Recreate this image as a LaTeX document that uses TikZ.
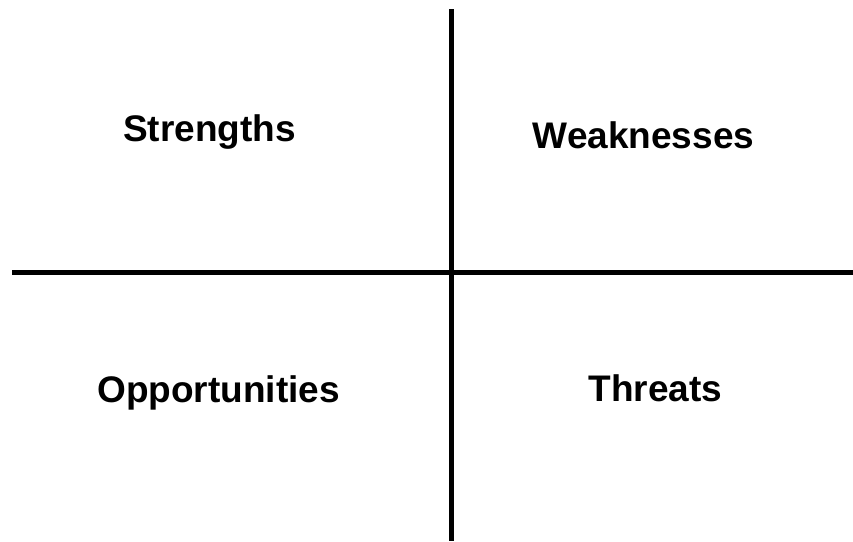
\documentclass[tikz,border=0pt]{standalone}
\usepackage{fontspec}
\setmainfont{Liberation Sans}
\usepackage{tikz}

\tikzset{
    axis/.style={line width=5pt},
    quad/.style={font=\fontsize{37}{40}\selectfont\bfseries, anchor=base, inner sep=0pt}
}

\begin{document}
\begin{tikzpicture}[x=1pt, y=-1pt]
    \useasboundingbox (0,0) rectangle (853,541);
    % the two axes
    \coordinate (top) at (451.5, 9);
    \coordinate (bottom) at (451.5, 541);
    \coordinate (left) at (12, 272.5);
    \coordinate (right) at (853, 272.5);
    \draw[axis] (top) -- (bottom);
    \draw[axis] (left) -- (right);
    % quadrant labels
    \node[quad] (str) at (209.5, 141) {Strengths};
    \node[quad] (weak) at (643.5, 148) {Weaknesses};
    \node[quad] (opp) at (218.5, 402) {Opportunities};
    \node[quad] (thr) at (655.5, 401) {Threats};
\end{tikzpicture}
\end{document}
